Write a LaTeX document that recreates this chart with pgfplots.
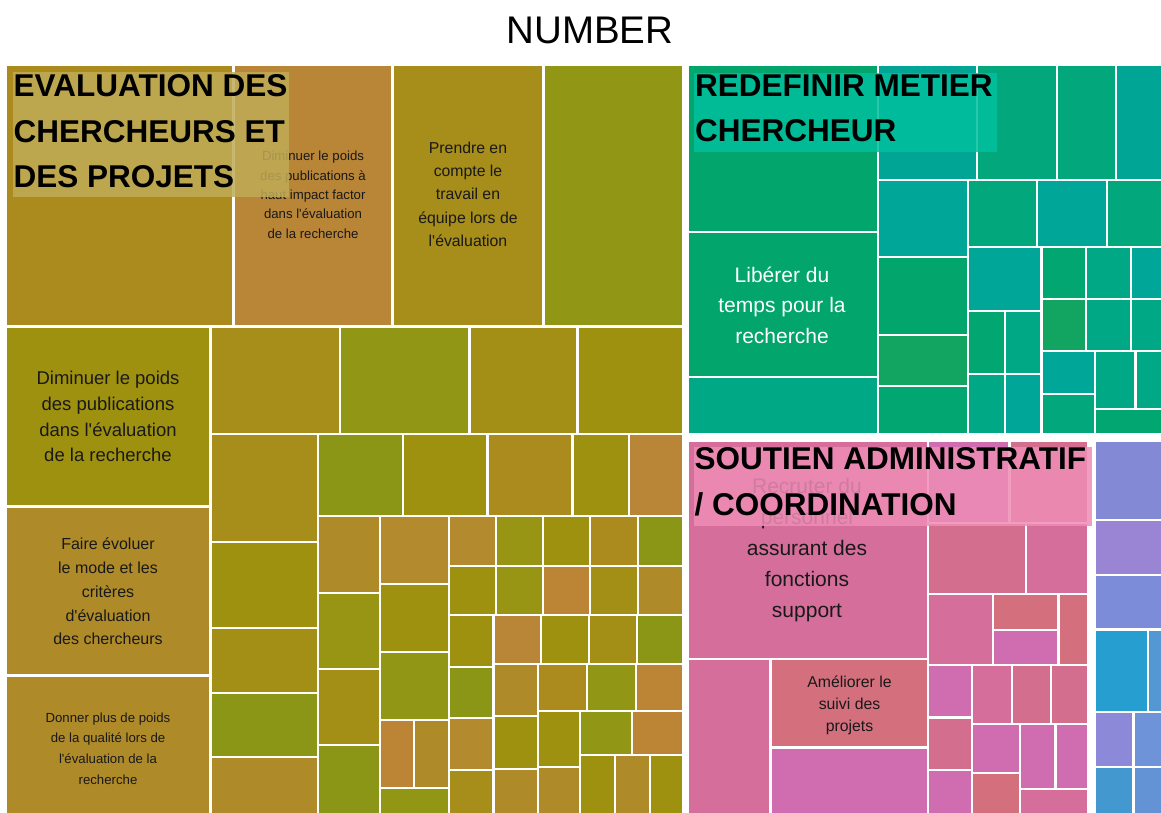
\documentclass[border=0pt]{standalone}
\usepackage{pgfplots}
\pgfplotsset{compat=1.18}
\usepackage{fontspec}
\setmainfont{Liberation Sans}[Ligatures=TeXOff]
% group 1 palette
\definecolor{Y1}{HTML}{AB8B1E}
\definecolor{Y2}{HTML}{B98536}
\definecolor{Y3}{HTML}{A78D1A}
\definecolor{Y4}{HTML}{919614}
\definecolor{Y5}{HTML}{9F9110}
\definecolor{Y6}{HTML}{AF8A29}
\definecolor{Y7}{HTML}{8B9617}
\definecolor{Y8}{HTML}{BC8435}
\definecolor{Y9}{HTML}{A38F15}
\definecolor{Y10}{HTML}{979513}
\definecolor{Y11}{HTML}{B48A2E}
% group 2 palette
\definecolor{G1}{HTML}{02A56B}
\definecolor{G2}{HTML}{00A596}
\definecolor{G3}{HTML}{02A87B}
\definecolor{G4}{HTML}{00A799}
\definecolor{G5}{HTML}{12A562}
\definecolor{G6}{HTML}{01A886}
\definecolor{G7}{HTML}{02A671}
% group 3 palette
\definecolor{P1}{HTML}{D66E9C}
\definecolor{P2}{HTML}{D4707D}
\definecolor{P3}{HTML}{D06CB0}
\definecolor{P4}{HTML}{D46E8E}
% group 4 palette
\definecolor{B1}{HTML}{8489D6}
\definecolor{B2}{HTML}{9A84D4}
\definecolor{B3}{HTML}{7D8CD8}
\definecolor{B4}{HTML}{279ED0}
\definecolor{B5}{HTML}{5398D2}
\definecolor{B6}{HTML}{8C8AD8}
\definecolor{B7}{HTML}{6E93D8}
\definecolor{B8}{HTML}{4398D0}
\definecolor{B9}{HTML}{6393D4}
% overlays
\definecolor{O1}{HTML}{BFAB57}
\definecolor{O2}{HTML}{00C09E}
\definecolor{O3}{HTML}{EE8DB6}
\newcommand{\R}[5]{\addplot[fill=#5,draw=none] coordinates {(#1,#2) (#3,#2) (#3,#4) (#1,#4)} -- cycle;}
\newcommand{\lab}[5]{\node[font=\fontsize{#1}{#1}\selectfont,text=#2,anchor=base,inner sep=0pt] at (axis cs:#3,#4) {#5};}
\newcommand{\ttl}[3]{\node[font=\fontsize{31.5}{31.5}\selectfont\bfseries,text=black,anchor=base west,inner sep=0pt] at (axis cs:#1,#2) {#3};}
\begin{document}
\begin{tikzpicture}
\begin{axis}[scale only axis, width=1161pt, height=813pt,
  xmin=0, xmax=1161, ymin=0, ymax=813, y dir=reverse,
  hide axis, clip=false]
\addplot[fill=white,draw=none] coordinates {(0,0) (1161,0) (1161,813) (0,813)} -- cycle;
% ===== Group 1 =====
\R{7}{66}{232}{325}{Y1}
\R{235}{66}{391}{325}{Y2}
\R{394}{66}{542}{325}{Y3}
\R{545}{66}{682}{325}{Y4}
\R{7}{328}{209}{505}{Y5}
\R{7}{508}{209}{674}{Y6}
\R{7}{677}{209}{813}{Y6}
\R{212}{328}{339}{433}{Y3}
\R{341}{328}{468}{433}{Y4}
\R{471}{328}{576}{433}{Y9}
\R{579}{328}{682}{433}{Y5}
\R{212}{435}{317}{541}{Y3}
\R{212}{543}{317}{627}{Y5}
\R{212}{629}{317}{692}{Y9}
\R{212}{694}{317}{756}{Y7}
\R{212}{758}{317}{813}{Y6}
\R{319}{435}{402}{515}{Y7}
\R{404}{435}{486}{515}{Y5}
\R{489}{435}{571}{515}{Y1}
\R{574}{435}{628}{515}{Y5}
\R{630}{435}{682}{515}{Y2}
\R{319}{517}{379}{592}{Y6}
\R{319}{594}{379}{668}{Y10}
\R{319}{670}{379}{744}{Y9}
\R{319}{746}{379}{813}{Y7}
\R{381}{517}{448}{583}{Y11}
\R{381}{585}{448}{651}{Y5}
\R{381}{653}{448}{719}{Y4}
\R{381}{721}{413}{787}{Y8}
\R{415}{721}{448}{787}{Y6}
\R{381}{789}{448}{813}{Y4}
\R{450}{517}{495}{565}{Y11}
\R{497}{517}{542}{565}{Y10}
\R{544}{517}{589}{565}{Y5}
\R{591}{517}{637}{565}{Y1}
\R{639}{517}{682}{565}{Y7}
\R{450}{567}{495}{614}{Y5}
\R{497}{567}{542}{614}{Y10}
\R{544}{567}{589}{614}{Y8}
\R{591}{567}{637}{614}{Y9}
\R{639}{567}{682}{614}{Y6}
\R{450}{616}{492}{666}{Y5}
\R{450}{668}{492}{717}{Y7}
\R{450}{719}{492}{769}{Y11}
\R{450}{771}{492}{813}{Y3}
\R{495}{616}{540}{663}{Y2}
\R{542}{616}{588}{663}{Y5}
\R{590}{616}{636}{663}{Y9}
\R{638}{616}{682}{663}{Y7}
\R{495}{665}{537}{715}{Y6}
\R{495}{717}{537}{768}{Y5}
\R{495}{770}{537}{813}{Y6}
\R{539}{665}{586}{710}{Y1}
\R{588}{665}{635}{710}{Y4}
\R{637}{665}{682}{710}{Y8}
\R{539}{712}{579}{766}{Y5}
\R{539}{768}{579}{813}{Y6}
\R{581}{712}{631}{754}{Y4}
\R{633}{712}{682}{754}{Y8}
\R{581}{756}{614}{813}{Y5}
\R{616}{756}{649}{813}{Y6}
\R{651}{756}{682}{813}{Y5}
% ===== Group 2 =====
\R{689}{66}{877}{231}{G1}
\R{689}{233}{877}{376}{G1}
\R{689}{378}{877}{433}{G6}
\R{879}{66}{976}{179}{G2}
\R{978}{66}{1056}{179}{G3}
\R{1058}{66}{1115}{179}{G3}
\R{1117}{66}{1161}{179}{G2}
\R{879}{181}{967}{256}{G4}
\R{879}{258}{967}{334}{G1}
\R{879}{336}{967}{385}{G5}
\R{879}{387}{967}{433}{G7}
\R{969}{181}{1036}{246}{G3}
\R{1038}{181}{1106}{246}{G4}
\R{1108}{181}{1161}{246}{G3}
\R{969}{248}{1040}{310}{G4}
\R{969}{312}{1004}{373}{G7}
\R{1006}{312}{1040}{373}{G6}
\R{969}{375}{1004}{433}{G6}
\R{1006}{375}{1040}{433}{G4}
\R{1043}{248}{1085}{298}{G7}
\R{1087}{248}{1130}{298}{G6}
\R{1132}{248}{1161}{298}{G4}
\R{1043}{300}{1085}{350}{G5}
\R{1087}{300}{1130}{350}{G6}
\R{1132}{300}{1161}{350}{G6}
\R{1043}{352}{1094}{393}{G4}
\R{1043}{395}{1094}{433}{G3}
\R{1096}{352}{1134}{408}{G6}
\R{1137}{352}{1161}{408}{G6}
\R{1096}{410}{1161}{433}{G7}
% ===== Group 3 =====
\R{689}{442}{927}{658}{P1}
\R{929}{442}{1008}{522}{P3}
\R{1011}{442}{1087}{522}{P4}
\R{929}{524}{1025}{593}{P4}
\R{1027}{524}{1087}{593}{P1}
\R{929}{595}{992}{664}{P1}
\R{994}{595}{1057}{629}{P2}
\R{994}{631}{1057}{664}{P3}
\R{1060}{595}{1087}{664}{P2}
\R{689}{660}{769}{813}{P1}
\R{772}{660}{927}{746}{P2}
\R{772}{749}{927}{813}{P3}
\R{929}{666}{971}{716}{P3}
\R{929}{719}{971}{769}{P4}
\R{929}{771}{971}{813}{P3}
\R{973}{666}{1011}{723}{P1}
\R{1013}{666}{1050}{723}{P4}
\R{1052}{666}{1087}{723}{P4}
\R{973}{725}{1019}{772}{P3}
\R{973}{774}{1019}{813}{P2}
\R{1021}{725}{1054}{788}{P3}
\R{1057}{725}{1087}{788}{P3}
\R{1021}{790}{1087}{813}{P1}
% ===== Group 4 =====
\R{1096}{442}{1161}{519}{B1}
\R{1096}{521}{1161}{574}{B2}
\R{1096}{576}{1161}{628}{B3}
\R{1096}{631}{1147}{711}{B4}
\R{1149}{631}{1161}{711}{B5}
\R{1096}{713}{1132}{766}{B6}
\R{1135}{713}{1161}{766}{B7}
\R{1096}{768}{1132}{813}{B8}
\R{1135}{768}{1161}{813}{B9}
% ===== labels =====
\lab{13.2}{black!90}{313}{161}{Diminuer le poids}
\lab{13.2}{black!90}{313}{180.3}{des publications à}
\lab{13.2}{black!90}{313}{199.6}{haut impact factor}
\lab{13.2}{black!90}{313}{218.9}{dans l'évaluation}
\lab{13.2}{black!90}{313}{238.2}{de la recherche}
\lab{15.8}{black!90}{468}{154}{Prendre en}
\lab{15.8}{black!90}{468}{177}{compte le}
\lab{15.8}{black!90}{468}{200}{travail en}
\lab{15.8}{black!90}{468}{223}{équipe lors de}
\lab{15.8}{black!90}{468}{246}{l'évaluation}
\lab{18.5}{black!90}{108}{384.7}{Diminuer le poids}
\lab{18.5}{black!90}{108}{410.3}{des publications}
\lab{18.5}{black!90}{108}{436}{dans l'évaluation}
\lab{18.5}{black!90}{108}{461.7}{de la recherche}
\lab{16}{black!90}{108}{549}{Faire évoluer}
\lab{16}{black!90}{108}{573}{le mode et les}
\lab{16}{black!90}{108}{597}{critères}
\lab{16}{black!90}{108}{621}{d'évaluation}
\lab{16}{black!90}{108}{644.5}{des chercheurs}
\lab{13.2}{black!90}{108}{722}{Donner plus de poids}
\lab{13.2}{black!90}{108}{742.7}{de la qualité lors de}
\lab{13.2}{black!90}{108}{763.4}{l'évaluation de la}
\lab{13.2}{black!90}{108}{784}{recherche}
\lab{21}{white}{782}{282}{Libérer du}
\lab{21}{white}{782}{312.5}{temps pour la}
\lab{21}{white}{782}{343}{recherche}
\lab{21}{black!90}{807}{493}{Recruter du}
\lab{21}{black!90}{807}{524}{personnel}
\lab{21}{black!90}{807}{555.5}{assurant des}
\lab{21}{black!90}{807}{586.5}{fonctions}
\lab{21}{black!90}{807}{617}{support}
\lab{15.8}{black!90}{849.5}{687}{Améliorer le}
\lab{15.8}{black!90}{849.5}{709}{suivi des}
\lab{15.8}{black!90}{849.5}{731}{projets}
% ===== group title overlays =====
\addplot[fill=O1,fill opacity=0.85,draw=none] coordinates {(13,72) (289,72) (289,197) (13,197)} -- cycle;
\addplot[fill=O2,fill opacity=0.85,draw=none] coordinates {(694,73) (997,73) (997,152) (694,152)} -- cycle;
\addplot[fill=O3,fill opacity=0.85,draw=none] coordinates {(694,447) (1092,447) (1092,526) (694,526)} -- cycle;
\ttl{13.5}{96.7}{EVALUATION DES}
\ttl{13.5}{142.3}{CHERCHEURS ET}
\ttl{13.5}{188}{DES PROJETS}
\ttl{695}{96.3}{REDEFINIR METIER}
\ttl{695}{142}{CHERCHEUR}
\ttl{694.5}{469.3}{SOUTIEN ADMINISTRATIF}
\ttl{694.5}{515}{/ COORDINATION}
% ===== chart title =====
\node[font=\fontsize{38.5}{38.5}\selectfont,anchor=base,inner sep=0pt] at (axis cs:590,43.3) {NUMBER};
\end{axis}
\end{tikzpicture}
\end{document}
